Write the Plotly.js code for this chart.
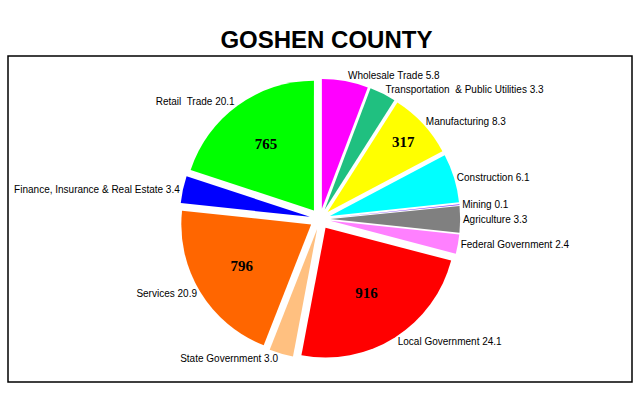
<!DOCTYPE html>
<html>
<head>
<meta charset="utf-8">
<script src="https://cdn.plot.ly/plotly-3.0.1.min.js"></script>
<style>html,body{margin:0;padding:0;background:#fff}#chart{width:640px;height:400px}</style>
</head>
<body>
<div id="chart"></div>
<script>
const categories = ["Wholesale Trade", "Transportation  & Public Utilities", "Manufacturing", "Construction", "Mining", "Agriculture", "Federal Government", "Local Government", "State Government", "Services", "Finance, Insurance & Real Estate", "Retail  Trade"];
const percents = [5.8, 3.3, 8.3, 6.1, 0.1, 3.3, 2.4, 24.1, 3.0, 20.9, 3.4, 20.1];
const counts = [null, null, 317, null, null, null, null, 916, null, 796, null, 765];
const colors = ["#FF00FF", "#20C080", "#FFFF00", "#00FFFF", "#8040FF", "#808080", "#FF80FF", "#FF0000", "#FFC080", "#FF6600", "#0000FF", "#00FF00"];

const outsideText = categories.map((c, i) => c + " " + percents[i].toFixed(1));
const insideText = counts.map(v => v === null ? "" : "<b>" + v + "</b>");
const pulls = percents.map(() => 0.08);
const dom = {x: [0.2, 0.8], y: [0.07, 0.93]};

const traces = [
  {
    type: "pie", values: percents, labels: categories, sort: false, direction: "clockwise", rotation: 0,
    marker: {colors: colors, line: {width: 0}},
    text: outsideText, textinfo: "text", textposition: "outside",
    outsidetextfont: {family: "Liberation Sans Narrow, Arial Narrow, Liberation Sans, sans-serif", size: 10, color: "#000"},
    pull: pulls, domain: dom, hoverinfo: "none", showlegend: false
  },
  {
    type: "pie", values: percents, labels: categories, sort: false, direction: "clockwise", rotation: 0,
    marker: {colors: colors.map(() => "rgba(0,0,0,0)"), line: {width: 0}},
    text: insideText, textinfo: "text", textposition: "inside", insidetextorientation: "horizontal",
    insidetextfont: {family: "Liberation Serif, serif", size: 15, color: "#000"},
    pull: pulls, domain: dom, hoverinfo: "none", showlegend: false
  }
];

const layout = {
  width: 640, height: 400,
  margin: {l: 8, r: 8, t: 56, b: 18},
  paper_bgcolor: "#fff", plot_bgcolor: "#fff",
  title: {text: "<b>GOSHEN COUNTY</b>", font: {family: "Liberation Sans, Arial, sans-serif", size: 24, color: "#000"}, x: 0.51, xanchor: "center", y: 0.9, yanchor: "middle"},
  shapes: [{type: "rect", xref: "paper", yref: "paper", x0: 0, x1: 1, y0: 0, y1: 1, line: {color: "#000", width: 1.5}}],
  showlegend: false
};

Plotly.newPlot("chart", traces, layout, {staticPlot: true});
</script>
</body>
</html>
